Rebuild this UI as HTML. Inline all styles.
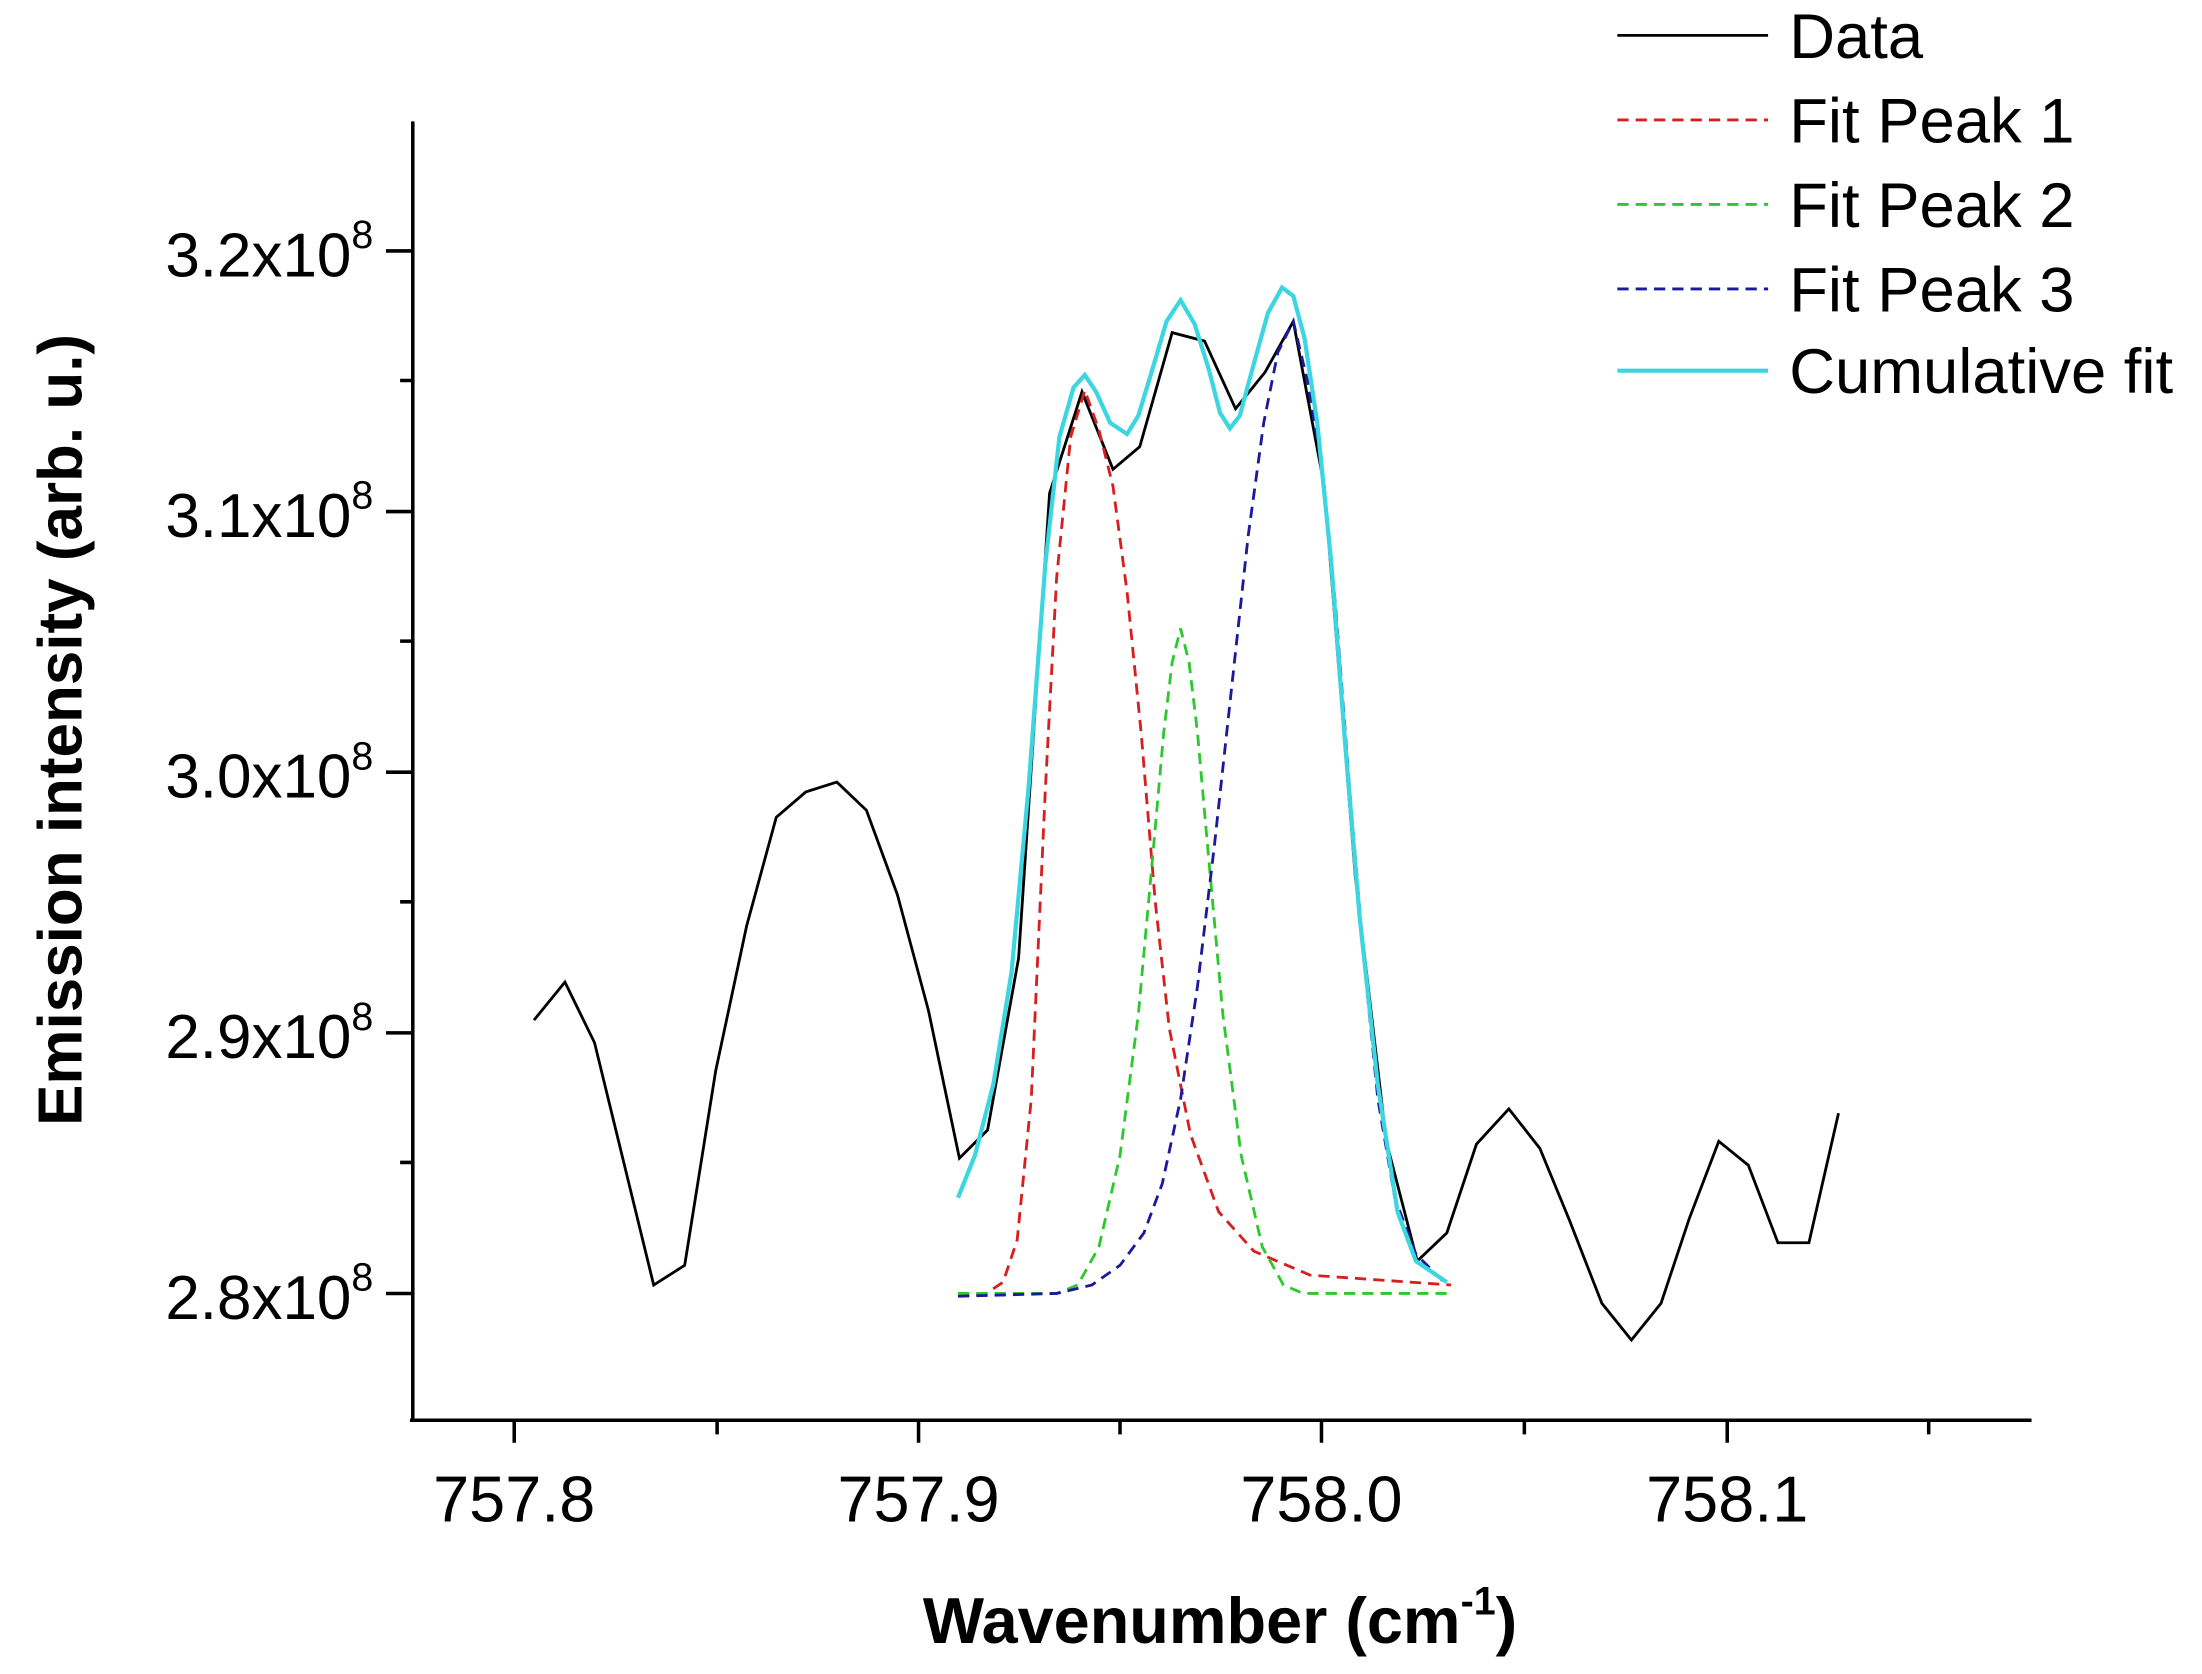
<!DOCTYPE html>
<html><head><meta charset="utf-8"><style>html,body{margin:0;padding:0;background:#fff}svg{display:block}</style></head>
<body>
<svg width="2202" height="1674" viewBox="0 0 1563 1188" xmlns="http://www.w3.org/2000/svg" font-family="Liberation Sans, Arial, sans-serif">
<rect width="1563" height="1188" fill="#fff"/>
<g stroke="#000" stroke-width="2.5" fill="none">
<line x1="293" y1="86" x2="293" y2="1009"/>
<line x1="291" y1="1008" x2="1442" y2="1008"/>
<path d="M274 178H293M274 363H293M274 548H293M274 733H293M274 918H293M284 270H293M284 455H293M284 640H293M284 825H293"/>
<path d="M365 1008V1024M652 1008V1024M938 1008V1024M1226 1008V1024M509 1008V1018M795 1008V1018M1082 1008V1018M1369 1008V1018"/>
</g>
<g font-size="44" text-anchor="end" fill="#000">
<text x="265" y="196">3.2x10<tspan font-size="28" dy="-20">8</tspan></text>
<text x="265" y="381">3.1x10<tspan font-size="28" dy="-20">8</tspan></text>
<text x="265" y="566">3.0x10<tspan font-size="28" dy="-20">8</tspan></text>
<text x="265" y="751">2.9x10<tspan font-size="28" dy="-20">8</tspan></text>
<text x="265" y="936">2.8x10<tspan font-size="28" dy="-20">8</tspan></text>
</g>
<g font-size="46" text-anchor="middle" fill="#000">
<text x="365" y="1080">757.8</text><text x="652" y="1080">757.9</text><text x="938" y="1080">758.0</text><text x="1226" y="1080">758.1</text>
</g>
<text x="866" y="1166" font-size="46" font-weight="bold" text-anchor="middle">Wavenumber (cm<tspan font-size="28" dy="-20">-1</tspan><tspan dy="20">)</tspan></text>
<text transform="translate(58,518) rotate(-90)" font-size="44" font-weight="bold" text-anchor="middle">Emission intensity (arb. u.)</text>
<polyline fill="none" stroke="#000" stroke-width="2" points="379,724 401,697 422,740 464,912 486,898 508,760 530,657 551,580 572,562 594,555 615,575 637,635 659,717 681,822 701,802 723,680 745,350 768,278 790,333 809,317 832,236 855,242 877,290 898,264 918,228 940,345 962,622 984,810 1006,895 1027,875 1048,812 1071,787 1093,815 1114,866 1137,925 1158,951 1179,925 1199,865 1220,810 1241,827 1262,882 1284,882 1305,790"/>
<polyline fill="none" stroke="#d62020" stroke-width="2" stroke-dasharray="8,5" points="680,920 700,918 712,910 722,880 732,780 742,560 750,410 760,310 770,277 780,305 790,345 800,420 810,520 820,640 830,730 845,805 865,860 890,888 930,905 1030,912"/>
<polyline fill="none" stroke="#2ec82e" stroke-width="2" stroke-dasharray="8,5" points="680,918 750,918 765,912 780,885 795,820 808,720 818,610 826,520 832,470 838,446 844,470 850,520 858,610 868,720 881,820 896,885 911,912 925,918 1030,918"/>
<polyline fill="none" stroke="#1a1a9a" stroke-width="2" stroke-dasharray="8,5" points="680,920 750,918 775,912 795,898 812,875 825,840 838,780 850,700 862,600 874,490 886,380 897,300 907,250 918,228 928,270 938,330 948,430 958,560 968,680 978,780 990,850 1005,890 1025,910"/>
<polyline fill="none" stroke="#3cd6e0" stroke-width="3" points="680,850 692,820 705,770 718,690 730,560 742,400 752,310 762,275 770,266 778,278 788,300 800,308 808,295 818,262 828,228 838,213 848,230 858,262 866,293 873,304 880,295 890,258 900,222 910,204 918,210 926,240 935,300 945,400 955,530 965,650 978,770 992,860 1005,895 1027,910"/>
<g stroke-width="2">
<line x1="1148" y1="25" x2="1255" y2="25" stroke="#000"/>
<line x1="1148" y1="85" x2="1255" y2="85" stroke="#d62020" stroke-dasharray="8,5"/>
<line x1="1148" y1="145" x2="1255" y2="145" stroke="#2ec82e" stroke-dasharray="8,5"/>
<line x1="1148" y1="205" x2="1255" y2="205" stroke="#1a1a9a" stroke-dasharray="8,5"/>
<line x1="1148" y1="263" x2="1255" y2="263" stroke="#3cd6e0" stroke-width="3"/>
</g>
<g font-size="45" fill="#000">
<text x="1270" y="41">Data</text><text x="1270" y="101">Fit Peak 1</text><text x="1270" y="161">Fit Peak 2</text><text x="1270" y="221">Fit Peak 3</text><text x="1270" y="279">Cumulative fit</text>
</g>
</svg>
</body></html>
